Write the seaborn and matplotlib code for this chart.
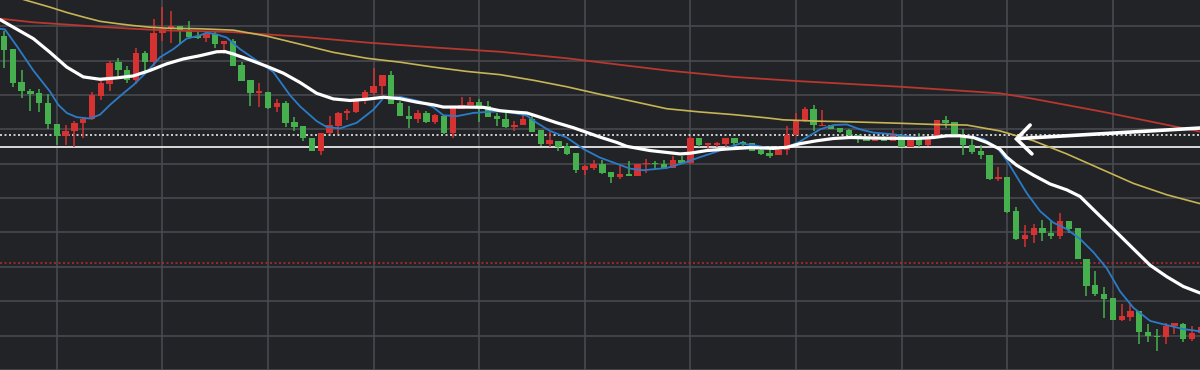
import numpy as np
import pandas as pd
import seaborn as sns
import matplotlib.pyplot as plt

# candle data (one bar per session, left to right)
open_ = [363.3, 350, 316.7, 307.7, 305, 295, 274, 261.7, 266.3, 274.3,
         279, 302.3, 314.3, 336.7, 328.3, 318.3, 346, 336.7, 366, 370,
         373.3, 369.3, 363.3, 361.7, 365, 355.7, 358.3, 334.3, 319, 305.7,
         306, 290.7, 295, 275.7, 271.7, 260, 246.7, 264.3, 271.7, 285,
         286, 299.3, 305, 312.3, 324, 295, 282.3, 279.3, 285, 276,
         282.3, 264.3, 289.3, 292.7, 296, 291.7, 281.7, 279.3, 271, 272.3,
         279.3, 267.3, 253.3, 256.7, 251, 244, 227.3, 229, 233.3, 225,
         219.3, 222.7, 221, 232.7, 234.3, 233.3, 229, 236.7, 234, 260,
         252.7, 252.7, 253.3, 259, 255.7, 254, 247.3, 244.7, 241.7, 247,
         262.7, 276.7, 289.3, 271.7, 272.7, 270, 267.3, 262.7, 260, 256.7,
         260.7, 256.7, 262.7, 250.7, 258.3, 252.7, 261.7, 278.3, 275.7, 260.7,
         252.7, 246, 242.3, 217.3, 220, 185, 156.7, 160.7, 168.3, 162.7,
         160, 175, 167.7, 136.7, 110, 101, 96.7, 74.3, 77.3, 83.3,
         62.3, 58.3, 56.7, 68.3, 70, 55, 61]
close = [349.3, 316, 307.3, 304, 294.7, 273.3, 261.7, 266.7, 275, 279.3,
         303.3, 315, 336, 328.3, 318.3, 346, 336.7, 366.7, 370.7, 373.3,
         368.7, 362.3, 361.3, 365, 355, 358.3, 333.3, 317.7, 305, 306.7,
         290, 295, 275, 270.7, 259.3, 246.7, 264.3, 272.7, 285, 286.7,
         298.3, 306, 312.7, 324, 294.3, 282.3, 279, 285, 276, 282.7,
         264.3, 290, 293.3, 296, 291.7, 280.7, 279, 271, 272.7, 279.3,
         266, 253.3, 257.3, 250, 243.3, 227.3, 230.7, 233.3, 224, 219.3,
         222.7, 221, 232.7, 234.3, 232.7, 229, 236.7, 234, 260, 252.7,
         254, 254, 259, 254.3, 253.3, 246.7, 243.3, 241.3, 247.3, 262.7,
         277.3, 289.3, 272.3, 272.7, 268.3, 266, 262.7, 258.3, 256.7, 260.7,
         256.7, 262.7, 250.7, 258.3, 252.7, 260.7, 278.3, 275, 262.3, 252.7,
         245.7, 241.7, 217.3, 220, 184, 156.7, 161, 168.3, 162.7, 160,
         175, 167.3, 136, 109.3, 101, 96, 74.3, 78.3, 83.3, 61.7,
         58.3, 56.7, 67.7, 70.7, 55, 60.7, 67]
high = [368.3, 350, 329, 309.3, 309.3, 304, 274, 272.3, 277.3, 280.7,
        306.7, 317.3, 338.3, 340.7, 333.3, 351, 348.3, 380.7, 393.3, 388.3,
        373.3, 378.3, 368.3, 367.7, 367.7, 358.3, 360, 337.3, 319, 316,
        306, 299, 297.3, 281, 271.7, 260, 265, 281.7, 286, 289,
        300.7, 308.3, 330.7, 324, 327.7, 297, 291.7, 288.3, 286.7, 284,
        283.3, 290.7, 301, 301.7, 299.3, 296.7, 285, 285.7, 277.3, 284,
        285, 267.3, 265.7, 256.7, 254.3, 244, 231.7, 236.7, 237.3, 225,
        231.7, 236, 232.7, 238.3, 235.7, 236.7, 240.7, 241, 261.7, 260,
        254, 255, 259, 260, 256.7, 254, 248.3, 251.7, 251.7, 271.7,
        285, 290.7, 293.3, 288.3, 272.7, 270, 268.3, 262.7, 261.7, 261.7,
        261.7, 267.3, 262.7, 258.3, 265, 260.7, 278.3, 281.7, 275.7, 268.3,
        258.3, 252.7, 242.3, 230, 220, 189, 171, 172.3, 176, 175,
        183.3, 175, 167.7, 136.7, 124, 108.3, 96.7, 90.7, 90, 83.3,
        70, 65, 70.7, 70.7, 70.7, 67.7, 70]
low = [330.7, 311, 300.7, 287.3, 285.7, 269, 252.3, 252.3, 250.7, 260,
       278.3, 298.3, 307.3, 322.7, 315, 314, 326.7, 333.3, 358.3, 356.7,
       355, 360.7, 360.7, 357.3, 351, 345, 332.7, 317.7, 292.3, 290.7,
       289, 286, 270.7, 266.7, 256.7, 246, 242.7, 264, 263.3, 278.3,
       285, 294, 303.3, 303.3, 294.3, 282, 270, 275, 275, 273.3,
       264, 259.3, 289.3, 292.7, 276, 280.7, 271.7, 270, 266.7, 272.3,
       266, 251.7, 250.7, 246, 242.7, 224, 221.7, 226.7, 223.3, 214,
       217.3, 220.7, 220.7, 224, 226.7, 229, 229, 232.7, 233.3, 250,
       246, 250.7, 250, 251.7, 250, 246.7, 241.7, 239.3, 241.7, 241.7,
       262.7, 276, 266.7, 271.7, 268.3, 265, 261.7, 254, 256, 256.7,
       256.7, 256, 250, 250, 250, 251.7, 260.7, 270, 261.7, 241.7,
       243.3, 238.3, 216.7, 216, 182.7, 155.7, 148.3, 152.3, 154.3, 156.7,
       156.7, 162.7, 136, 99, 99, 76, 74.3, 73.3, 73.3, 49.3,
       51.7, 42.7, 49.3, 60, 51.7, 53.3, 58]

# moving average lines (position in bars, value)
white_x = [-0.45, 3.33, 5.23, 7.13, 9.01, 10.91, 12.81, 14.69, 16.59, 18.49,
           20.38, 22.27, 24.17, 25.11, 26.06, 27.95, 29.85, 31.74, 33.64, 35.53,
           37.42, 39.32, 41.22, 43.1, 45, 46.9, 48.78, 49.92, 52.58, 54.47,
           56.36, 58.26, 59.4, 60.91, 62.81, 64.69, 66.59, 67.73, 69.63, 70.76,
           73.41, 76.82, 77.95, 79.85, 82.13, 84.77, 87.42, 88.94, 90.45, 92.35,
           94.24, 96.14, 99.92, 103.72, 105.6, 107.13, 108.64, 110.15, 111.67, 113.18,
           113.94, 115.08, 116.97, 118.86, 120.76, 122.27, 123.78, 125.31, 126.82, 128.33,
           130.23, 132.13, 134.01, 135.91]
white_y = [380, 360.7, 346.7, 331.7, 321.7, 319.3, 320.7, 322.7, 328.3, 335,
           340, 343.3, 347.3, 347.5, 345, 339, 332.5, 325.5, 316, 305,
           299.3, 297.7, 299, 301, 299.5, 296, 293.3, 291, 291, 290.7,
           287.3, 285.7, 285, 280.7, 275, 270, 264, 260.4, 255, 251,
           246.7, 243.3, 244, 246.7, 248.3, 249.7, 249, 250, 253.7, 256.7,
           259, 260, 259.3, 259, 260, 261.7, 261.7, 260, 255, 248,
           240, 231.7, 221.7, 212.7, 206.7, 200, 186.7, 173.3, 160, 146.7,
           130, 118.3, 108.3, 101.7]
blue_x = [-0.45, 0.11, 1.44, 3.33, 5.23, 6.17, 7.13, 8.26, 9.77, 10.91,
          12.05, 13.56, 14.69, 16.22, 17.73, 19.24, 20.76, 22.27, 23.03, 24.17,
          25.31, 26.82, 28.72, 30.6, 32.5, 33.64, 35.53, 36.67, 38.18, 40.08,
          41.97, 43.1, 45, 47.27, 48.78, 49.92, 51.44, 53.33, 54.85, 56.36,
          57.88, 59.4, 60.53, 62.05, 63.94, 65.83, 67.73, 69.63, 71.14, 72.65,
          75.31, 77.19, 79.09, 81.36, 83.64, 85.53, 87.42, 88.94, 90.45, 92.73,
          94.24, 95.76, 97.27, 98.78, 101.06, 103.72, 105.6, 107.13, 109.4, 111.28,
          112.81, 113.94, 115.08, 116.22, 117.73, 119.24, 120.76, 122.27, 123.78, 125.31,
          126.82, 128.33, 130.23, 132.13, 134.01, 135.91]
blue_y = [370.7, 370, 353.3, 328.3, 306.7, 293.3, 285, 280.7, 279.3, 283.3,
          293.3, 305, 313.3, 326.7, 341.7, 350, 360.7, 364, 366.7, 365,
          361.7, 350, 338.3, 326.7, 303, 291.7, 276.7, 270.7, 269.3, 275,
          288.3, 300, 301.5, 296.7, 290.7, 282.7, 281.7, 285, 286, 286.7,
          285, 282.3, 275, 266.7, 260, 248.3, 239.5, 233.3, 228.3, 226.7,
          229, 234, 240, 246.7, 254, 251.7, 248.3, 250, 256, 268.3,
          272.7, 273.3, 268.3, 265, 263.3, 260, 260, 262.3, 261.2, 258.5,
          250, 236.7, 220, 203.3, 185, 173.3, 166.7, 156.7, 143.3, 126.7,
          103.3, 86.7, 73.3, 69, 65, 62.7]
yellow_x = [-0.45, 2.39, 5.23, 7.13, 9.01, 10.91, 12.81, 14.69, 16.59, 18.49,
            22.27, 26.06, 29.85, 33.64, 37.42, 41.22, 45, 48.78, 52.58, 56.36,
            60.15, 63.94, 67.73, 71.51, 75.31, 79.09, 82.88, 86.67, 88.56, 92.35,
            96.14, 101.82, 105.6, 109.4, 113.18, 116.97, 120.76, 124.55, 128.33, 132.13,
            135.91]
yellow_y = [408, 400, 392.7, 387.3, 382.7, 378.3, 376, 374, 372.3, 371.3,
            370.7, 369.3, 363.3, 355, 346.7, 340.7, 336.7, 331.7, 327.3, 324,
            318.3, 311.7, 304, 296.7, 289.3, 286, 283.3, 280, 278, 276.7,
            276, 274.5, 273.3, 272.7, 266.7, 256.7, 243.3, 228.3, 213.3, 201.7,
            192.7]
red_x = [-0.45, 3.33, 7.13, 10.91, 14.69, 18.49, 22.27, 26.06, 29.85, 33.64,
         41.22, 48.78, 56.36, 63.94, 67.73, 75.31, 82.88, 90.45, 101.82, 113.18,
         116.59, 124.55, 135.91]
red_y = [381, 377.3, 375, 372.7, 370.7, 369, 368.3, 367.3, 365, 362.7,
         356.7, 351.7, 347.3, 340.7, 336.5, 328.3, 321.7, 317.3, 311.7, 305,
         300, 286.7, 266]

# price levels marked on the chart
white_dotted = 263
white_solid = 250
red_dotted = 132.7

# hand-drawn arrow pointing at the cross (bar position, price)
arrow_shaft_x = [136.6, 115.4]
arrow_shaft_y = [270, 259]
arrow_head_x = [116.6, 115.05, 116.8]
arrow_head_y = [272.7, 258.5, 243.3]

bg = "#222327"
grid_c = "#4b4c52"
up_c = "#d63232"
down_c = "#46b04e"

sns.set_style("dark", {"axes.facecolor": bg, "figure.facecolor": bg,
                       "grid.color": grid_c})

fig = plt.figure(figsize=(12, 3.7), dpi=100)
ax = fig.add_axes([0, 0, 1, 1])

df = pd.DataFrame({"open": open_, "close": close, "high": high, "low": low})
df["x"] = np.arange(len(df))
df["up"] = df["close"] >= df["open"]
colors = np.where(df["up"], up_c, down_c)
bottom = df[["open", "close"]].min(axis=1)
height = (df["close"] - df["open"]).abs().clip(lower=1.2)

ax.vlines(df["x"], df["low"], df["high"], colors=colors, lw=1.1, zorder=3)
ax.bar(df["x"], height, bottom=bottom, width=0.72, color=colors,
       edgecolor=colors, linewidth=0, zorder=4)

ax.axhline(white_dotted, color="#e8e8e8", lw=1.2, ls=(0, (1.2, 1.5)), zorder=2)
ax.axhline(white_solid, color="#e8e8e8", lw=1.3, zorder=2)
ax.axhline(red_dotted, color="#b3282a", lw=1.2, ls=(0, (1.2, 1.5)), zorder=2)

sns.lineplot(x=red_x, y=red_y, color="#b8372f", lw=1.3, ax=ax, zorder=5)
sns.lineplot(x=yellow_x, y=yellow_y, color="#c7b454", lw=1.2, ax=ax, zorder=5)
sns.lineplot(x=blue_x, y=blue_y, color="#2b7cc8", lw=1.3, ax=ax, zorder=6)
sns.lineplot(x=white_x, y=white_y, color="white", lw=2.3, ax=ax, zorder=7,
             solid_joinstyle="round")

ax.plot(arrow_shaft_x, arrow_shaft_y, color="white", lw=2.6,
        solid_capstyle="round", zorder=8)
ax.plot(arrow_head_x, arrow_head_y, color="white", lw=2.6,
        solid_capstyle="round", solid_joinstyle="miter", zorder=8)

ax.set_xlim(-0.455, 135.9)
ax.set_ylim(30, 400)
ax.set_xticks(np.arange(6, 136, 12))
ax.set_yticks(np.arange(23.3, 400, 35))
ax.grid(True, color=grid_c, lw=1.1)
ax.tick_params(length=0, labelbottom=False, labelleft=False)
ax.set_xlabel("")
ax.set_ylabel("")
for s in ax.spines.values():
    s.set_visible(False)

fig.savefig("out.png", dpi=100, facecolor=bg)
